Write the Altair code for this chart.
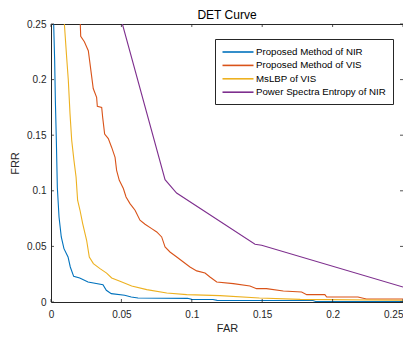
import altair as alt
import pandas as pd

# ---- data ----
series_names = ["Proposed Method of NIR", "Proposed Method of VIS", "MsLBP of VIS", "Power Spectra Entropy of NIR"]
series_colors = ["#0072BD", "#D95319", "#EDB120", "#7E2F8E"]

far_nir = [0.0019, 0.0026, 0.0031, 0.0038, 0.0045, 0.0057, 0.0073, 0.0092, 0.0121, 0.0137, 0.0161,
           0.0204, 0.0263, 0.0369, 0.0393, 0.0428, 0.0523, 0.057, 0.0618, 0.097, 0.100, 0.115, 0.118,
           0.186, 0.188, 0.25]
frr_nir = [0.25, 0.217, 0.181, 0.145, 0.103, 0.0764, 0.0585, 0.048, 0.0405, 0.0315, 0.0231,
           0.0216, 0.018, 0.0156, 0.0105, 0.0075, 0.006, 0.0045, 0.0036, 0.0033, 0.0024, 0.0022, 0.0015,
           0.0013, 0.0005, 0.0005]

far_vis = [0.0208, 0.0211, 0.0237, 0.0265, 0.0277, 0.030, 0.0324, 0.0329, 0.036, 0.0367, 0.0381,
           0.0407, 0.0431, 0.0455, 0.0466, 0.0485, 0.0514, 0.0533, 0.0561, 0.0597, 0.0632, 0.0668,
           0.0715, 0.0751, 0.0786, 0.081, 0.0845, 0.0893, 0.094, 0.0987, 0.1035, 0.1094, 0.1129,
           0.1177, 0.1295, 0.1413, 0.146, 0.153, 0.165, 0.178, 0.1816, 0.1945, 0.1958, 0.218, 0.224, 0.25]
frr_vis = [0.25, 0.239, 0.234, 0.226, 0.2144, 0.192, 0.184, 0.176, 0.175, 0.166, 0.151,
           0.147, 0.139, 0.130, 0.1184, 0.1094, 0.102, 0.0944, 0.0885, 0.0825, 0.0735, 0.0699,
           0.066, 0.063, 0.0585, 0.0495, 0.045, 0.0405, 0.036, 0.0315, 0.028, 0.026, 0.0225,
           0.018, 0.0165, 0.0144, 0.012, 0.012, 0.0099, 0.009, 0.0066, 0.0066, 0.0045, 0.0045, 0.0027, 0.0027]

far_lbp = [0.0095, 0.0111, 0.0123, 0.0135, 0.0147, 0.0163, 0.0178, 0.0189, 0.0206, 0.0225, 0.0253,
           0.0272, 0.0301, 0.0348, 0.0395, 0.0431, 0.049, 0.0573, 0.068, 0.0822, 0.0964, 0.12,
           0.148, 0.177, 0.25]
frr_lbp = [0.25, 0.2203, 0.1994, 0.1694, 0.1454, 0.1274, 0.1124, 0.0915, 0.0825, 0.0705, 0.0555,
           0.0405, 0.0345, 0.030, 0.026, 0.0216, 0.0186, 0.0144, 0.0111, 0.0081, 0.0066, 0.0057,
           0.0036, 0.0024, 0.0016]

far_pse = [0.0507, 0.081, 0.0892, 0.1449, 0.1496, 0.25]
frr_pse = [0.25, 0.110, 0.098, 0.0519, 0.051, 0.0135]

tick_values = [0, 0.05, 0.1, 0.15, 0.2, 0.25]

# ---- table ----
rows = []
for name, fx, fy in zip(series_names, [far_nir, far_vis, far_lbp, far_pse], [frr_nir, frr_vis, frr_lbp, frr_pse]):
    for i, (a, b) in enumerate(zip(fx, fy)):
        rows.append({"series": name, "FAR": a, "FRR": b, "order": i})
df = pd.DataFrame(rows)
ticks_df = pd.DataFrame({"t": tick_values})

W, H = 352, 278
FONT = "Liberation Sans"
AX = "#262626"

xs = alt.Scale(domain=[0, 0.25], nice=False, zero=False)
ys = alt.Scale(domain=[0, 0.25], nice=False, zero=False)

lines = alt.Chart(df).mark_line(strokeWidth=1.1, clip=True).encode(
    x=alt.X("FAR:Q", scale=xs, title="FAR",
            axis=alt.Axis(values=tick_values, format="~g", ticks=False, grid=False, domain=False,
                          labelPadding=7, labelFontSize=10, labelColor=AX, labelFont=FONT,
                          labelAlign={"condition": {"test": "datum.value >= 0.25", "value": "right"},
                                      "value": "center"},
                          titleFontSize=11, titleFont=FONT, titleColor=AX, titleFontWeight="normal",
                          titlePadding=3, labelFlush=False)),
    y=alt.Y("FRR:Q", scale=ys, title="FRR",
            axis=alt.Axis(values=tick_values, format="~g", ticks=False, grid=False, domain=False,
                          labelPadding=5, labelFontSize=10, labelColor=AX, labelFont=FONT,
                          titleFontSize=11, titleFont=FONT, titleColor=AX, titleFontWeight="normal",
                          titlePadding=6, labelFlush=False)),
    color=alt.Color("series:N", scale=alt.Scale(domain=series_names, range=series_colors),
                    sort=series_names,
                    legend=alt.Legend(title=None, orient="none", legendX=164, legendY=15,
                                      symbolType="M-3.1,0L3.1,0", symbolSize=100, symbolStrokeWidth=1.6,
                                      symbolOffset=10,
                                      labelFontSize=9.7, labelFont=FONT, labelColor="#000",
                                      labelOffset=12, rowPadding=2.4, padding=7,
                                      strokeColor=AX, fillColor="white", labelLimit=300)),
    order="order:Q",
)

tick_style = dict(color=AX, strokeWidth=0.8)
bottom = alt.Chart(ticks_df).mark_rule(**tick_style).encode(
    x=alt.X("t:Q", scale=xs), y=alt.value(H), y2=alt.value(H - 3))
top = alt.Chart(ticks_df).mark_rule(**tick_style).encode(
    x=alt.X("t:Q", scale=xs), y=alt.value(0), y2=alt.value(3))
left = alt.Chart(ticks_df).mark_rule(**tick_style).encode(
    y=alt.Y("t:Q", scale=ys), x=alt.value(0), x2=alt.value(3))
right = alt.Chart(ticks_df).mark_rule(**tick_style).encode(
    y=alt.Y("t:Q", scale=ys), x=alt.value(W), x2=alt.value(W - 3))

chart = alt.layer(lines, bottom, top, left, right).properties(
    width=W, height=H,
    title=alt.TitleParams("DET Curve", fontSize=12, font=FONT, fontWeight="normal", color="#000", offset=-3),
    autosize=alt.AutoSizeParams(type="none"),
    padding={"left": 43, "top": 16, "right": 0, "bottom": 30},
    background="white",
).configure_view(stroke=AX, strokeWidth=1)

chart.save("out.html", embed_options={"renderer": "svg", "actions": False})
